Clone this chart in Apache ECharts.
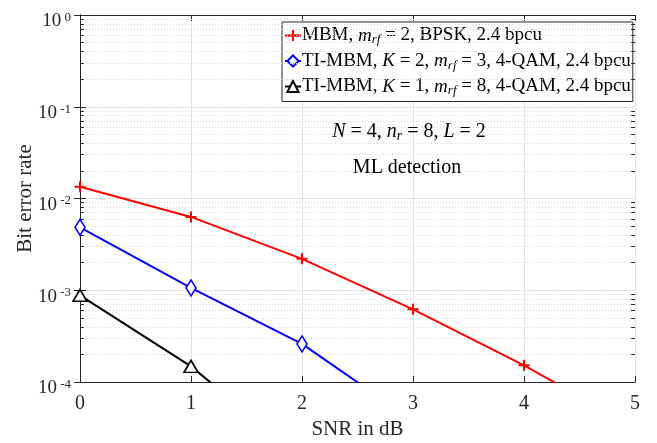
<!DOCTYPE html>
<html><head><meta charset="utf-8">
<script src="https://cdn.jsdelivr.net/npm/echarts@6/dist/echarts.min.js"></script>
<style>html,body{margin:0;padding:0;background:#fff}#c{width:657px;height:443px}</style>
</head><body><div id="c"></div>
<script>
var snr = [0, 1, 2, 3, 4, 5];
var berMBM = [0.0134, 0.0063, 0.0022, 0.00062, 0.000152, 0.000032];
var berTI2 = [0.00485, 0.00106, 0.00026, 0.000038];
var berTI1 = [0.00088, 0.000148, 0.000015];
var xTicks = [0, 1, 2, 3, 4, 5];
var yDecades = [1e-4, 1e-3, 1e-2, 1e-1, 1];
var minorMult = [2, 3, 4, 5, 6, 7, 8, 9];

var FONT = '"Liberation Serif", "DejaVu Serif", serif';
var minorVals = [];
for (var d = 0; d < yDecades.length - 1; d++) for (var k = 0; k < minorMult.length; k++) minorVals.push(minorMult[k] * yDecades[d]);

var gridLines = minorVals.map(function (v) { return [{ coord: [0, v] }, { coord: [5, v] }]; });
var tickMarks = [];
minorVals.forEach(function (v) {
  tickMarks.push([{ coord: [0, v] }, { coord: [0.035, v] }]);
  tickMarks.push([{ coord: [4.965, v] }, { coord: [5, v] }]);
});

function pairs(ys) { return ys.map(function (y, i) { return [snr[i], y]; }); }

var chart = echarts.init(document.getElementById('c'), null, { renderer: 'canvas' });
var supRich = {
  b: { fontFamily: FONT, fontSize: 19, color: '#262626', lineHeight: 20, verticalAlign: 'bottom' },
  s: { fontFamily: FONT, fontSize: 13, color: '#262626', lineHeight: 14, verticalAlign: 'top', padding: [0, 0, 14, 0] }
};
var legRich = {
  n: { fontFamily: FONT, fontSize: 19, color: '#000' },
  i: { fontFamily: FONT, fontSize: 19, fontStyle: 'italic', color: '#000' },
  sub: { fontFamily: FONT, fontSize: 13, fontStyle: 'italic', color: '#000', padding: [9, 0, 0, 0] }
};
var annRich = {
  n: { fontFamily: FONT, fontSize: 20, color: '#000' },
  i: { fontFamily: FONT, fontSize: 20, fontStyle: 'italic', color: '#000' },
  sub: { fontFamily: FONT, fontSize: 14, fontStyle: 'italic', color: '#000', padding: [9, 0, 0, 0] }
};
var names = ['MBM', 'TI-MBM K2', 'TI-MBM K1'];
var legendText = {
  'MBM': '{n|MBM, }{i|m}{sub|rf}{n| = 2, BPSK, 2.4 bpcu}',
  'TI-MBM K2': '{n|TI-MBM, }{i|K}{n| = 2, }{i|m}{sub|rf}{n| = 3, 4-QAM, 2.4 bpcu}',
  'TI-MBM K1': '{n|TI-MBM, }{i|K}{n| = 1, }{i|m}{sub|rf}{n| = 8, 4-QAM, 2.4 bpcu}'
};

chart.setOption({
  animation: false,
  backgroundColor: '#fff',
  grid: { left: 80, right: 22, top: 15, bottom: 61, show: false, outerBoundsMode: 'none' },
  legend: {
    data: names, orient: 'vertical', left: 282, top: 22,
    backgroundColor: '#fff', borderColor: '#262626', borderWidth: 1, borderRadius: 0,
    padding: [4, 2, 4, 2], itemGap: 5, itemWidth: 16, itemHeight: 14,
    formatter: function (n) { return legendText[n]; },
    textStyle: { rich: legRich, padding: [0, 0, 0, -4] }
  },
  xAxis: [{
    type: 'value', min: 0, max: 5, interval: 1,
    name: 'SNR in dB', nameLocation: 'middle', nameGap: 37, nameMoveOverlap: false,
    nameTextStyle: { fontFamily: FONT, fontSize: 21, color: '#262626' },
    axisLine: { show: true, onZero: false, lineStyle: { color: '#262626', width: 1 } },
    axisTick: { show: true, inside: true, length: 6, lineStyle: { color: '#262626' } },
    axisLabel: { fontFamily: FONT, fontSize: 20, color: '#262626', margin: 12 },
    splitLine: { show: true, lineStyle: { color: '#e3e3e3', width: 1 } }
  }, {
    type: 'value', min: 0, max: 5, interval: 1, position: 'top',
    axisLine: { show: true, lineStyle: { color: '#262626', width: 1 } },
    axisTick: { show: true, inside: true, length: 6, lineStyle: { color: '#262626' } },
    axisLabel: { show: false }, splitLine: { show: false }
  }],
  yAxis: [{
    type: 'log', logBase: 10, min: 1e-4, max: 1,
    name: 'Bit error rate', nameLocation: 'middle', nameGap: 44, nameRotate: 90, nameMoveOverlap: false,
    nameTextStyle: { fontFamily: FONT, fontSize: 21, color: '#262626' },
    axisLine: { show: true, lineStyle: { color: '#262626', width: 1 } },
    axisTick: { show: true, inside: true, length: 6, lineStyle: { color: '#262626' } },
    axisLabel: {
      margin: 9, padding: [12, 0, 0, 0],
      formatter: function (v) { return '{b|10}{s| ' + Math.round(Math.log10(v)) + '}'; },
      rich: supRich
    },
    splitLine: { show: true, lineStyle: { color: '#e3e3e3', width: 1 } }
  }, {
    type: 'log', logBase: 10, min: 1e-4, max: 1, position: 'right',
    axisLine: { show: true, lineStyle: { color: '#262626', width: 1 } },
    axisTick: { show: true, inside: true, length: 6, lineStyle: { color: '#262626' } },
    axisLabel: { show: false }, splitLine: { show: false }
  }],
  series: [{
    type: 'line', data: [], silent: true, z: 1,
    markLine: { silent: true, symbol: 'none', label: { show: false }, animation: false,
      lineStyle: { type: [1, 2], color: '#d6d6d6', width: 1 }, data: gridLines }
  }, {
    type: 'line', data: [], silent: true, z: 1,
    markLine: { silent: true, symbol: 'none', label: { show: false }, animation: false,
      lineStyle: { type: 'solid', color: '#262626', width: 1 }, data: tickMarks }
  }, {
    name: 'MBM', type: 'line', data: pairs(berMBM), z: 5,
    symbol: 'path://M5,0L5,10M0,5L10,5', symbolSize: 11, showAllSymbol: true,
    lineStyle: { color: '#ff0000', width: 2 }, color: '#ff0000',
    itemStyle: { color: '#ff0000', borderColor: '#ff0000', borderWidth: 2 }
  }, {
    name: 'TI-MBM K2', type: 'line', data: pairs(berTI2), z: 5,
    symbol: 'diamond', symbolSize: [10, 16], showAllSymbol: true,
    lineStyle: { color: '#0000ff', width: 2 }, color: '#0000ff',
    itemStyle: { color: '#ffffff', borderColor: '#0000ff', borderWidth: 1.6 }
  }, {
    name: 'TI-MBM K1', type: 'line', data: pairs(berTI1), z: 5,
    symbol: 'triangle', symbolSize: [14, 12], showAllSymbol: true,
    lineStyle: { color: '#000000', width: 2 }, color: '#000000',
    itemStyle: { color: '#ffffff', borderColor: '#000000', borderWidth: 1.6 }
  }],
  graphic: [{
    type: 'text', x: 409, y: 132, z: 10,
    style: {
      text: '{i|N}{n| = 4, }{i|n}{sub|r}{n| = 8, }{i|L}{n| = 2}',
      rich: annRich, align: 'center', verticalAlign: 'middle'
    }
  }, {
    type: 'text', x: 407, y: 168, z: 10,
    style: { text: 'ML detection', font: '20px ' + FONT, fill: '#000', align: 'center', verticalAlign: 'middle' }
  }]
});
</script></body></html>
